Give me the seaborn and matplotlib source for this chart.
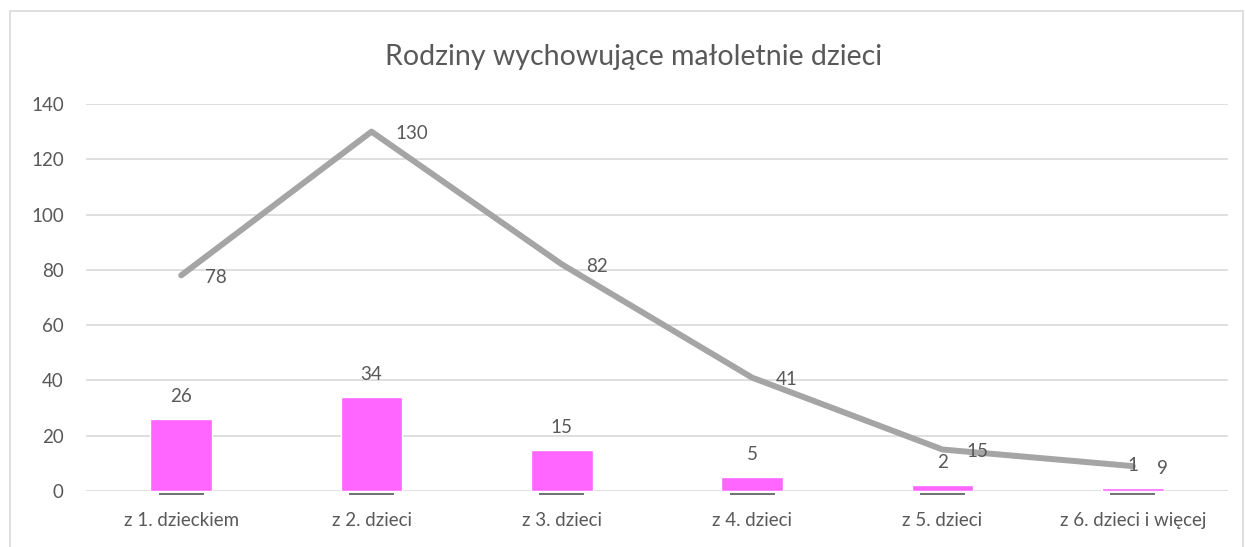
import matplotlib
matplotlib.use("Agg")
import matplotlib.pyplot as plt
import matplotlib.transforms as mtransforms
import seaborn as sns
import pandas as pd

# ── Data ───────────────────────────────────────────────────────────────────────
categories = ["z 1. dzieckiem", "z 2. dzieci", "z 3. dzieci",
              "z 4. dzieci", "z 5. dzieci", "z 6. dzieci i więcej"]
bar_values = [26, 34, 15, 5, 2, 1]
line_values = [78, 130, 82, 41, 15, 9]
zero_values = [0, 0, 0, 0, 0, 0]
y_ticks = [0, 20, 40, 60, 80, 100, 120, 140]

df = pd.DataFrame({"kategoria": categories, "slupki": bar_values,
                   "linia": line_values, "zero": zero_values})

TEXT = "#595959"
sns.set_theme(style="white")
plt.rcParams["font.family"] = ["Lato", "DejaVu Sans"]

fig = plt.figure(figsize=(12.45, 5.47), dpi=100)
ax = fig.add_axes([0.0691, 0.1024, 0.9172, 0.7075])

# outer chart border
fig.patches.append(plt.Rectangle((0.008, -0.02), 0.99, 1.0, transform=fig.transFigure,
                                 fill=False, edgecolor="#D9D9D9", linewidth=1.2))

sns.barplot(data=df, x="kategoria", y="slupki", color="#FF66FF", saturation=1,
            width=0.325, ax=ax, zorder=3)

# dark zero markers just below the axis line
shift = mtransforms.offset_copy(ax.transData, fig=fig, x=0, y=-3, units="dots")
xs = list(range(len(categories)))
ax.hlines(df["zero"], [x - 0.118 for x in xs], [x + 0.118 for x in xs],
          colors=TEXT, linewidth=1.2, transform=shift, zorder=2, clip_on=False)

sns.lineplot(data=df, x="kategoria", y="linia", color="#A5A5A5", linewidth=4.3,
             ax=ax, zorder=4, sort=False)

for i, v in enumerate(bar_values):
    ax.annotate(str(v), (i, v), xytext=(0, 14), textcoords="offset pixels",
                ha="center", va="bottom", fontsize=13.5, color=TEXT, zorder=5)
for i, v in enumerate(line_values):
    ax.annotate(str(v), (i, v), xytext=(24, -2), textcoords="offset pixels",
                ha="left", va="center", fontsize=13.5, color=TEXT, zorder=5)

ax.set_xlim(-0.5, len(categories) - 0.5)
ax.set_ylim(0, 140)
ax.set_yticks(y_ticks)
ax.yaxis.grid(True, color="#D9D9D9", linewidth=1.2, zorder=0)
ax.set_axisbelow(True)
for s in ax.spines.values():
    s.set_visible(False)
ax.tick_params(axis="both", length=0, labelsize=13.5, colors=TEXT)
ax.tick_params(axis="x", pad=15)
ax.tick_params(axis="y", pad=16)
ax.set_xlabel("")
ax.set_ylabel("")

fig.text(0.5085, 0.895, "Rodziny wychowujące małoletnie dzieci", ha="center", va="center",
         fontsize=20.5, color=TEXT)

fig.savefig("out.png", dpi=100)
